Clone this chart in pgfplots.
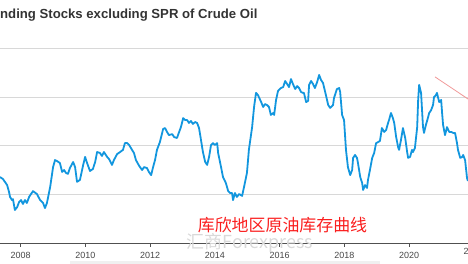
\documentclass[border=0pt]{standalone}
\usepackage{pgfplots}
\pgfplotsset{compat=1.18}
\usepackage{fontspec}
\setmainfont{Liberation Sans}
\newfontfamily\cjk{Noto Sans CJK SC}
\definecolor{lineblue}{RGB}{18,150,222}
\definecolor{gridgray}{RGB}{216,216,216}
\definecolor{axisgray}{RGB}{80,80,80}
\definecolor{labelgray}{RGB}{70,70,70}
\definecolor{titlegray}{RGB}{51,51,51}
\definecolor{annred}{RGB}{250,30,30}
\definecolor{trendpink}{RGB}{240,150,150}
\begin{document}
\begin{tikzpicture}[x=1bp,y=1bp]
\path[use as bounding box, clip] (0bp,0bp) rectangle (468bp,264bp);
\begin{axis}[
  at={(0bp,21bp)}, anchor=south west,
  scale only axis, width=468bp, height=194bp,
  xmin=2007.36, xmax=2021.82, ymin=0, ymax=80,
  axis x line*=bottom, axis y line*=left,
  x axis line style={draw=axisgray, line width=1bp, -},
  y axis line style={draw=none},
  xtick={2008,2010,2012,2014,2016,2018,2020},
  xticklabels={2008,2010,2012,2014,2016,2018,2020},
  ytick={20,40,60,80}, yticklabels={},
  ymajorgrids, grid style={draw=gridgray, line width=1bp},
  tick align=outside, major tick length=4bp,
  x tick style={draw=axisgray, line width=0.8bp},
  y tick style={draw=none},
  xticklabel style={font=\fontsize{9}{9}\selectfont, text=labelgray, inner sep=0pt, yshift=-5.5bp},
  clip=true,
]
\addplot[color=lineblue, line width=1.8bp, line join=round] coordinates {
(2007.36,27.2) (2007.45,26.4) (2007.58,23.9) (2007.64,21.0) (2007.67,19.0) (2007.73,17.7)
(2007.76,18.1) (2007.82,13.6) (2007.89,14.8) (2007.95,16.9) (2008.01,17.7) (2008.07,16.1)
(2008.13,17.7) (2008.19,16.5) (2008.26,19.0) (2008.38,21.4) (2008.50,20.2) (2008.60,17.7)
(2008.69,16.5) (2008.75,14.4) (2008.81,16.5) (2008.91,23.1) (2009.00,31.3) (2009.06,34.2)
(2009.12,33.8) (2009.21,33.0) (2009.28,29.3) (2009.34,30.1) (2009.40,28.9) (2009.46,28.5)
(2009.52,30.9) (2009.62,33.4) (2009.68,31.3) (2009.74,25.2) (2009.83,26.0) (2009.93,32.2)
(2009.99,35.5) (2010.05,33.0) (2010.14,29.7) (2010.23,30.5) (2010.30,33.4) (2010.36,37.5)
(2010.45,37.1) (2010.51,35.9) (2010.57,37.5) (2010.67,35.5) (2010.73,34.6) (2010.82,32.2)
(2010.88,34.2) (2010.98,36.7) (2011.07,37.5) (2011.16,38.4) (2011.22,41.2) (2011.29,41.2)
(2011.35,40.4) (2011.44,38.4) (2011.50,37.1) (2011.56,34.2) (2011.66,31.8) (2011.75,30.1)
(2011.81,31.3) (2011.90,30.9) (2011.96,29.3) (2012.03,28.0) (2012.09,31.3) (2012.15,34.2)
(2012.21,38.4) (2012.30,41.6) (2012.40,47.0) (2012.46,47.4) (2012.52,45.8) (2012.58,44.5)
(2012.68,44.9) (2012.74,43.7) (2012.83,43.3) (2012.86,44.5) (2012.95,47.8) (2013.02,51.5)
(2013.08,50.7) (2013.14,50.7) (2013.20,49.5) (2013.26,50.3) (2013.32,49.1) (2013.39,49.9)
(2013.45,49.5) (2013.51,47.4) (2013.57,42.5) (2013.63,37.5) (2013.70,33.4) (2013.76,32.2)
(2013.82,35.5) (2013.88,40.4) (2013.94,41.2) (2014.00,40.4) (2014.07,41.2) (2014.10,37.1)
(2014.19,31.3) (2014.25,27.2) (2014.34,24.7) (2014.41,21.4) (2014.47,20.6) (2014.53,20.6)
(2014.56,17.7) (2014.62,20.6) (2014.68,19.0) (2014.75,20.2) (2014.84,19.4) (2014.90,23.1)
(2014.99,28.9) (2015.05,38.4) (2015.15,47.8) (2015.21,56.1) (2015.27,61.9) (2015.33,61.0)
(2015.43,58.1) (2015.49,56.1) (2015.55,57.3) (2015.61,56.9) (2015.67,56.1) (2015.73,52.8)
(2015.80,53.6) (2015.83,52.8) (2015.89,59.0) (2015.95,62.7) (2016.04,63.9) (2016.11,64.3)
(2016.17,66.8) (2016.23,65.6) (2016.29,64.3) (2016.35,67.6) (2016.41,65.6) (2016.48,63.5)
(2016.54,64.7) (2016.60,63.9) (2016.66,62.3) (2016.72,61.9) (2016.75,61.9) (2016.82,58.1)
(2016.88,58.6) (2016.91,65.2) (2016.97,66.8) (2017.03,65.6) (2017.09,63.9) (2017.16,66.4)
(2017.22,69.3) (2017.28,67.2) (2017.34,66.0) (2017.43,61.0) (2017.50,56.9) (2017.56,55.7)
(2017.65,56.9) (2017.68,59.8) (2017.77,63.5) (2017.84,63.9) (2017.87,62.3) (2017.93,52.8)
(2017.99,50.7) (2018.05,38.4) (2018.11,31.3) (2018.18,28.0) (2018.24,30.1) (2018.27,35.1)
(2018.33,36.3) (2018.39,35.1) (2018.42,33.0) (2018.49,27.2) (2018.55,24.7) (2018.58,21.9)
(2018.64,23.9) (2018.70,22.7) (2018.73,26.0) (2018.79,30.1) (2018.86,35.1) (2018.92,37.1)
(2018.98,41.2) (2019.04,41.6) (2019.10,42.1) (2019.16,47.4) (2019.23,45.8) (2019.29,46.6)
(2019.35,49.5) (2019.38,50.7) (2019.44,53.6) (2019.50,51.5) (2019.54,49.5) (2019.60,43.7)
(2019.66,39.6) (2019.69,38.4) (2019.75,42.5) (2019.81,47.4) (2019.88,43.3) (2019.94,37.5)
(2019.97,35.1) (2020.03,35.5) (2020.09,38.4) (2020.12,37.5) (2020.18,39.2) (2020.25,47.8)
(2020.28,59.0) (2020.31,65.2) (2020.37,61.9) (2020.40,54.8) (2020.43,47.8) (2020.46,45.4)
(2020.52,48.7) (2020.59,52.0) (2020.62,53.6) (2020.68,54.8) (2020.74,56.9) (2020.77,60.2)
(2020.83,61.0) (2020.86,61.9) (2020.93,58.1) (2020.99,59.0) (2021.02,53.6) (2021.05,48.7)
(2021.11,44.5) (2021.17,47.8) (2021.24,45.8) (2021.30,45.8) (2021.36,45.4) (2021.42,45.4)
(2021.48,41.2) (2021.51,38.4) (2021.58,35.1) (2021.64,35.5) (2021.67,36.3) (2021.73,34.2)
(2021.79,26.8) (2021.82,25.6)
};
\addplot[color=trendpink, line width=0.8bp] coordinates {(2020.80,68.5) (2021.82,59.4)};
\end{axis}
\node[anchor=north, inner sep=0pt, font=\fontsize{9}{9}\selectfont, text=labelgray] at (473.7bp,15.5bp) {2022};
\node[anchor=base west, inner sep=0pt, font=\fontsize{13.2}{13.2}\selectfont\bfseries, text=titlegray] at (0bp,245.7bp) {nding Stocks excluding SPR of Crude Oil};
\node[anchor=center, inner sep=0pt, text=annred] at (282.5bp,38.5bp) {\cjk\fontsize{17}{17}\selectfont 库欣地区原油库存曲线};
\node[anchor=center, inner sep=0pt, text=gray!30] at (250bp,21bp) {\cjk\fontsize{18}{18}\selectfont 汇商Forexpress};
\fill[gray!12] (70bp,0bp) rectangle (380bp,2.5bp);
\end{tikzpicture}
\end{document}
